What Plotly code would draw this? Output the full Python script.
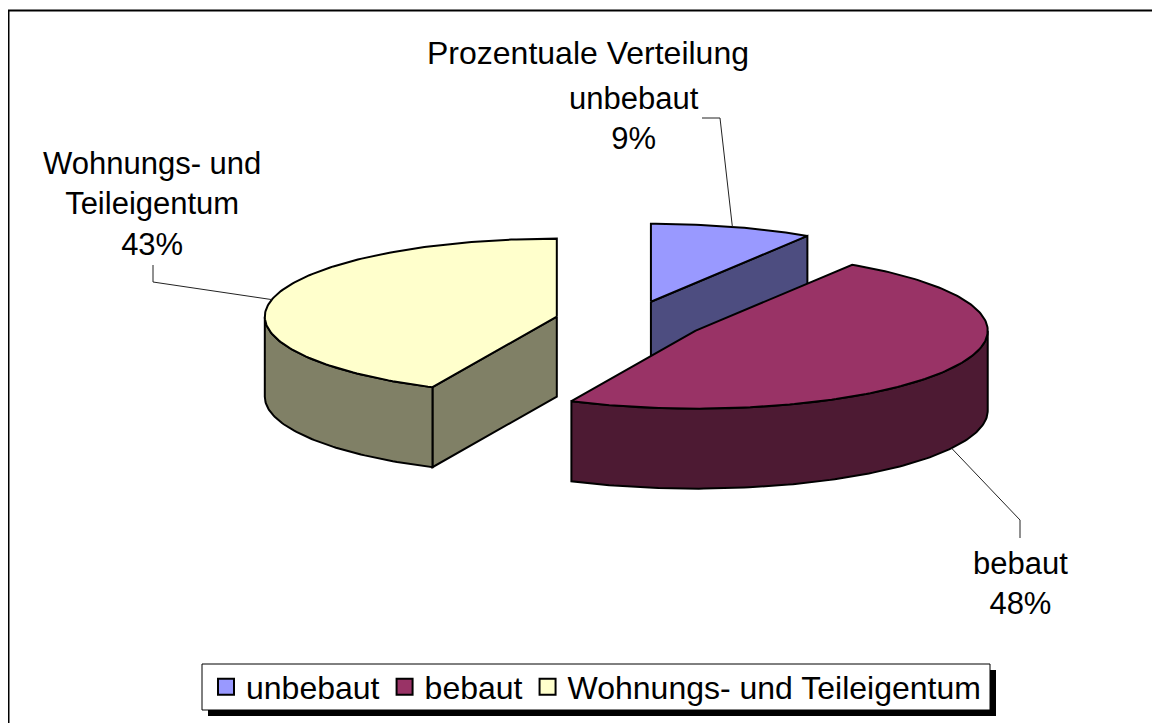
import numpy as np
import plotly.graph_objects as go

# ---------------- data ----------------
categories = ["unbebaut", "bebaut", "Wohnungs- und Teileigentum"]
values = [9, 48, 43]
label_texts = ["unbebaut", "bebaut", "Wohnungs- und<br>Teileigentum"]
title_text = "Prozentuale Verteilung"

# ---------------- style / layout ----------------
top_colors = ["#9999FF", "#993366", "#FFFFCC"]
side_colors = ["#4D4D80", "#4D1A33", "#808066"]
FONT = "Liberation Sans, Arial, sans-serif"

OFF = 8                     # page body margin of the html page
W, H = 1160 - OFF, 723 - OFF
CX, CY = 630, 321           # pie centre (screen px)
RX, RY = 292, 78            # ellipse radii (px) -> unit circle in data space
DEPTH = 80 / RY             # pie thickness (data y units)
EXPLODE = 75 / RX           # explosion (fraction of radius)

# label centres and leader-line elbows (screen px)
label_pos = [(634, 119), (1020, 583), (152, 204)]
leader_elbow = [[(720, 118), (702, 118)],
                [(1020, 520), (1020, 538)],
                [(153, 282), (153, 265)]]
LEG_BOX = (202, 664, 990, 710)   # legend frame (screen px)
SHADOW = 6


def px2x(px):
    return (px - CX) / RX


def py2y(py):
    return (CY - py) / RY


def paper_x(px):
    return (px - OFF) / W


def paper_y(py):
    return 1 - (py - OFF) / H


total = float(sum(values))
fracs = [v / total for v in values]
starts = np.concatenate([[0.0], np.cumsum(fracs)[:-1]]) * 360.0
ends = starts + np.array(fracs) * 360.0
mids = (starts + ends) / 2.0


def arc(a, b, ox, oy, dz=0.0):
    n = max(int(abs(b - a) / 1.0) + 2, 3)
    t = np.radians(np.linspace(a, b, n))
    return ox + np.sin(t), oy + np.cos(t) - dz


fig = go.Figure()


def add_poly(xs, ys, color):
    xs = list(xs) + [xs[0]]
    ys = list(ys) + [ys[0]]
    fig.add_trace(go.Scatter(
        x=xs, y=ys, mode="lines", fill="toself", fillcolor=color,
        line=dict(color="black", width=2), hoverinfo="skip",
        showlegend=False))


# draw back-to-front
order = sorted(range(len(values)), key=lambda i: -np.cos(np.radians(mids[i])))
for i in order:
    t1, t2, m = starts[i], ends[i], mids[i]
    ox = EXPLODE * np.sin(np.radians(m))
    oy = EXPLODE * np.cos(np.radians(m))
    eps = 1e-6
    # radial side faces
    for th, vis in ((t1, np.sin(np.radians(t1)) < -eps),
                    (t2, np.sin(np.radians(t2)) > eps)):
        if vis:
            ex = ox + np.sin(np.radians(th))
            ey = oy + np.cos(np.radians(th))
            add_poly([ox, ex, ex, ox], [oy, ey, ey - DEPTH, oy - DEPTH],
                     side_colors[i])
    # outer curved face (front half only)
    a, b = max(t1, 90.0), min(t2, 270.0)
    if b > a:
        xt, yt = arc(a, b, ox, oy)
        xb, yb = arc(b, a, ox, oy, DEPTH)
        add_poly(np.concatenate([xt, xb]), np.concatenate([yt, yb]),
                 side_colors[i])
    # top face
    xa, ya = arc(t1, t2, ox, oy)
    add_poly(np.concatenate([[ox], xa]), np.concatenate([[oy], ya]),
             top_colors[i])

# leader lines + labels
annotations = []
for i in range(len(values)):
    m = np.radians(mids[i])
    ox = EXPLODE * np.sin(m)
    oy = EXPLODE * np.cos(m)
    ax = ox + np.sin(m)
    ay = oy + np.cos(m) - (DEPTH if np.cos(m) < 0 else 0.0)
    xs = [ax] + [px2x(p[0]) for p in leader_elbow[i]]
    ys = [ay] + [py2y(p[1]) for p in leader_elbow[i]]
    fig.add_trace(go.Scatter(x=xs, y=ys, mode="lines",
                             line=dict(color="#222222", width=1),
                             hoverinfo="skip", showlegend=False))
    lx, ly = label_pos[i]
    annotations.append(dict(
        x=paper_x(lx), y=paper_y(ly), xref="paper", yref="paper",
        xanchor="center", yanchor="middle", showarrow=False,
        text=f"{label_texts[i]}<br>{values[i]}%",
        font=dict(family=FONT, size=31, color="black"), align="center"))

# legend entries
for i in range(len(values)):
    fig.add_trace(go.Scatter(
        x=[None], y=[None], mode="markers", name=categories[i],
        marker=dict(symbol="square", size=16, color=top_colors[i],
                    line=dict(color="black", width=2))))

lx0, ly0, lx1, ly1 = LEG_BOX
shapes = [
    # chart area border
    dict(type="rect", xref="paper", yref="paper",
         x0=paper_x(8.5), y0=paper_y(780), x1=paper_x(1220), y1=paper_y(10.5),
         line=dict(color="black", width=2), fillcolor="rgba(0,0,0,0)",
         layer="below"),
    # legend shadow
    dict(type="rect", xref="paper", yref="paper",
         x0=paper_x(lx0 + SHADOW), y0=paper_y(ly1 + SHADOW),
         x1=paper_x(lx1 + SHADOW), y1=paper_y(ly0 + SHADOW),
         line=dict(width=0), fillcolor="black", layer="above"),
    # legend frame
    dict(type="rect", xref="paper", yref="paper",
         x0=paper_x(lx0), y0=paper_y(ly1), x1=paper_x(lx1), y1=paper_y(ly0),
         line=dict(color="black", width=1), fillcolor="white", layer="above"),
]

fig.update_layout(
    width=W, height=H,
    margin=dict(l=0, r=0, t=0, b=0),
    paper_bgcolor="white", plot_bgcolor="white",
    font=dict(family=FONT, color="black"),
    title=dict(text=title_text, x=paper_x(588), y=paper_y(53),
               xanchor="center", yanchor="middle",
               font=dict(family=FONT, size=32, color="black")),
    xaxis=dict(visible=False, range=[px2x(OFF), px2x(OFF + W)], fixedrange=True),
    yaxis=dict(visible=False, range=[py2y(OFF + H), py2y(OFF)], fixedrange=True),
    showlegend=True,
    legend=dict(orientation="h", x=paper_x((lx0 + lx1) / 2), xanchor="center",
                y=paper_y((ly0 + ly1) / 2), yanchor="middle",
                bgcolor="rgba(0,0,0,0)", borderwidth=0,
                font=dict(family=FONT, size=32, color="black"),
                itemclick=False, itemdoubleclick=False),
    annotations=annotations,
    shapes=shapes,
)

fig.write_html("out.html")
